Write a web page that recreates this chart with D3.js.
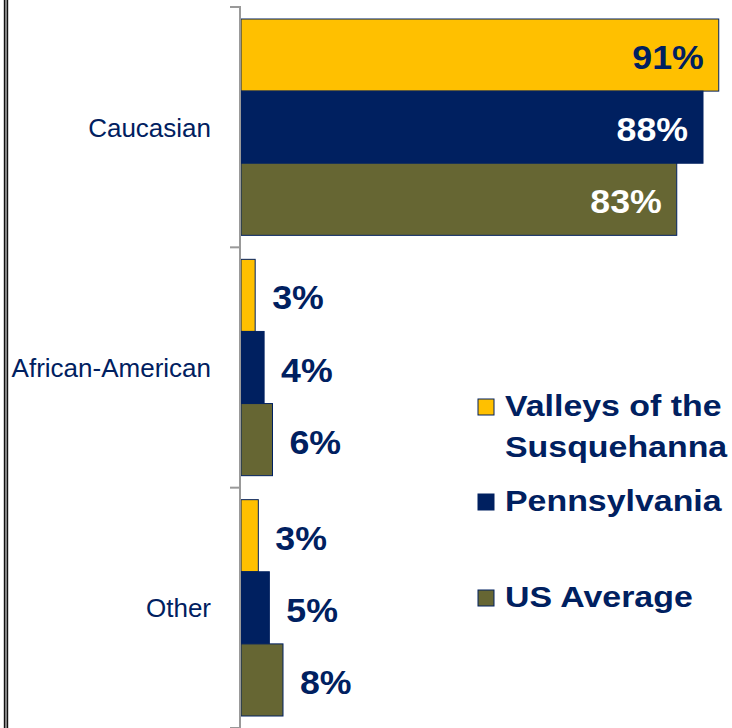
<!DOCTYPE html>
<html>
<head>
<meta charset="utf-8">
<script src="https://cdn.jsdelivr.net/npm/d3@7"></script>
<style>
  body { margin: 0; background: #fff; }
  svg { display: block; font-family: "Liberation Sans", Arial, sans-serif; }
</style>
</head>
<body>
<div id="chart"></div>
<script>
var categories = ["Caucasian", "African-American", "Other"];
var series = ["Valleys of the Susquehanna", "Pennsylvania", "US Average"];
var legendLines = [["Valleys of the", "Susquehanna"], ["Pennsylvania"], ["US Average"]];
var valleys = [91, 2.7, 3.3];
var penn = [88, 4.4, 5.4];
var usAvg = [83, 6.0, 8.0];
var valueLabels = [["91%", "88%", "83%"], ["3%", "4%", "6%"], ["3%", "5%", "8%"]];

var colors = ["#FFC000", "#002060", "#666633"];
var navy = "#002060";

var w = 732, h = 728;

var svg = d3.select("#chart")
    .append("svg")
    .attr("width", w)
    .attr("height", h);

// left frame line
svg.append("rect")
    .attr("x", 4).attr("y", 0)
    .attr("width", 4).attr("height", h)
    .style("fill", "#a0a0a0");
svg.append("line")
    .attr("x1", 4.5).attr("x2", 4.5).attr("y1", 0).attr("y2", h)
    .style("stroke", "#111").style("stroke-width", 1.4);
svg.append("line")
    .attr("x1", 7.5).attr("x2", 7.5).attr("y1", 0).attr("y2", h)
    .style("stroke", "#111").style("stroke-width", 1.4);

var x = d3.scaleLinear()
    .domain([0, 100])
    .range([241, 766]);

var y = d3.scaleBand()
    .domain(categories)
    .range([7, 728]);

var ySub = d3.scaleBand()
    .domain(series)
    .range([12, y.bandwidth() - 12])
    .paddingInner(0);

var table = categories.map(function(c, i) {
  return {
    cat: c,
    vals: [valleys[i], penn[i], usAvg[i]].map(function(v, j) {
      return { s: series[j], v: v, label: valueLabels[i][j], j: j };
    })
  };
});

var groups = svg.selectAll("g.grp")
    .data(table)
    .enter().append("g")
    .attr("class", "grp")
    .attr("transform", function(d) { return "translate(0," + y(d.cat) + ")"; });

groups.selectAll("rect")
    .data(function(d) { return d.vals; })
    .enter().append("rect")
    .attr("x", x(0))
    .attr("y", function(d) { return ySub(d.s); })
    .attr("width", function(d) { return x(d.v) - x(0); })
    .attr("height", ySub.bandwidth())
    .style("fill", function(d) { return colors[d.j]; })
    .style("stroke", navy)
    .style("stroke-width", 1);

groups.selectAll("text.val")
    .data(function(d) { return d.vals; })
    .enter().append("text")
    .attr("class", "val")
    .attr("transform", function(d) {
      var inside = d.v > 50;
      var tx = inside ? x(d.v) - 15 : x(d.v) + 17;
      var ty = ySub(d.s) + ySub.bandwidth() / 2 + 14;
      return "translate(" + tx + "," + ty + ") scale(1.05,1)";
    })
    .attr("text-anchor", function(d) { return d.v > 50 ? "end" : "start"; })
    .style("font-size", "34px")
    .style("font-weight", "bold")
    .style("fill", function(d) { return (d.v > 50 && d.j > 0) ? "#fff" : navy; })
    .text(function(d) { return d.label; });

// axis
var yAxis = d3.axisLeft(y)
    .tickSize(0)
    .tickPadding(29);

var ax = svg.append("g")
    .attr("transform", "translate(240,0)")
    .call(yAxis);
ax.select(".domain").remove();
ax.selectAll("text")
    .style("font-size", "26px")
    .style("font-family", "'Liberation Sans', Arial, sans-serif")
    .style("fill", navy)
    .attr("dy", "0.36em");

svg.append("line")
    .attr("x1", 240).attr("x2", 240)
    .attr("y1", 7).attr("y2", h)
    .style("stroke", "#999").style("stroke-width", 2);

var bounds = categories.map(function(c) { return y(c); }).concat([y.range()[1]]);
svg.selectAll("line.tick")
    .data(bounds)
    .enter().append("line")
    .attr("class", "tick")
    .attr("x1", 230).attr("x2", 241)
    .attr("y1", function(d) { return d; })
    .attr("y2", function(d) { return d; })
    .style("stroke", "#999").style("stroke-width", 2);

// legend
var legendY = [399, 494, 590];
var legend = svg.selectAll("g.leg")
    .data(legendLines)
    .enter().append("g")
    .attr("class", "leg")
    .attr("transform", function(d, i) { return "translate(478," + legendY[i] + ")"; });

legend.append("rect")
    .attr("width", 16).attr("height", 16)
    .style("fill", function(d, i) { return colors[i]; })
    .style("stroke", navy)
    .style("stroke-width", 1);

legend.each(function(lines) {
  var g = d3.select(this);
  lines.forEach(function(t, k) {
    g.append("text")
      .attr("transform", "translate(27," + (17 + k * 41) + ") scale(1.13,1)")
      .style("font-size", "30px")
      .style("font-weight", "bold")
      .style("fill", navy)
      .text(t);
  });
});
</script>
</body>
</html>
